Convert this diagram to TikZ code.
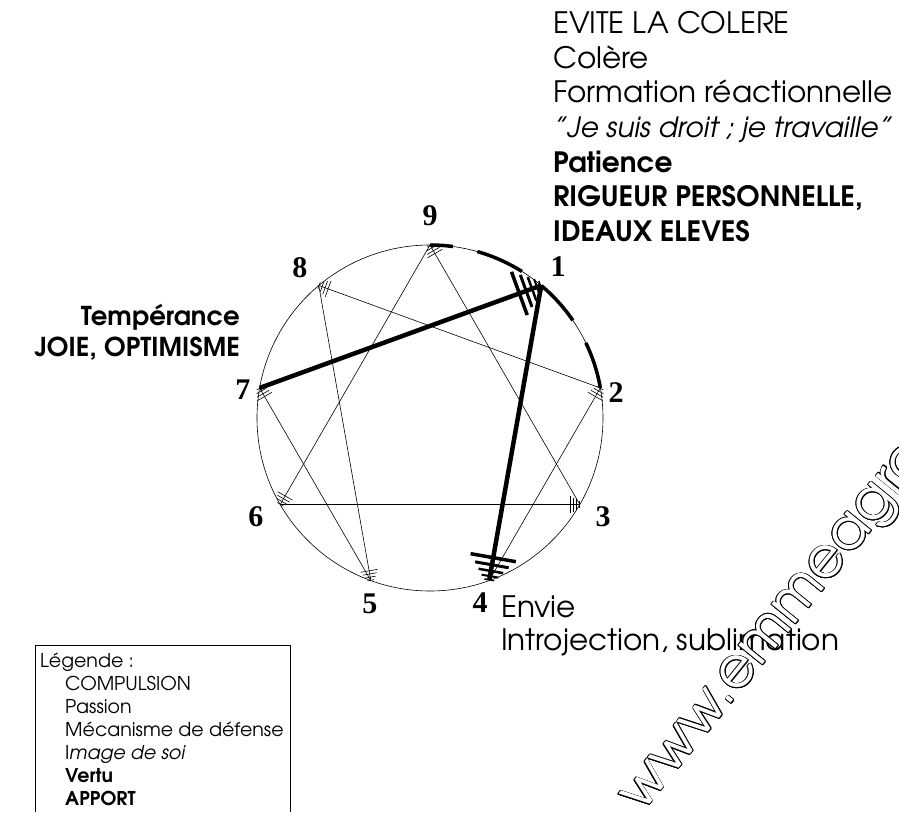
\documentclass[tikz,border=0pt]{standalone}
\usepackage{fontspec}
\setmainfont{TeX Gyre Adventor}
\newfontfamily\numfont{Liberation Serif}
\usepackage{contour}
\contourlength{0.7pt}
\usetikzlibrary{arrows.meta}

\begin{document}
\begin{tikzpicture}[x=1pt, y=1pt,
		thin_edge/.style={draw=black, line width=0.6pt},
		thin_tip/.style={-{Bar[width=17pt,sep=2.6pt] Bar[width=14pt,sep=2.6pt] Bar[width=11pt,sep=2.6pt] Bar[width=7pt]}},
		thick_edge/.style={draw=black, line width=4.5pt},
		thick_tip/.style={-{Bar[width=46pt,line width=3.5pt,sep=4pt] Bar[width=34pt,line width=3pt,sep=3.5pt] Bar[width=25pt,line width=2.5pt,sep=3pt] Bar[width=17pt,line width=2pt,sep=2pt] Bar[width=10pt,line width=1.5pt]}},
		arc_style/.style={draw=black, line width=3.5pt, dash pattern=on 23pt off 25pt on 49pt off 24pt on 47pt off 26pt on 48pt},
		num_style/.style={font=\numfont\bfseries\fontsize{30}{30}\selectfont},
		txt_style/.style={font=\fontsize{29.5}{34}\selectfont, anchor=base west, inner sep=0pt},
		bold_style/.style={font=\bfseries\fontsize{26}{30}\selectfont, anchor=base east, inner sep=0pt},
		leg_style/.style={font=\fontsize{19}{22}\selectfont, anchor=base west, inner sep=0pt}]

		\useasboundingbox (-430,-394) rectangle (469,418);

		% circle and its nine points
		\draw[thin_edge] (0,0) circle[radius=173];
		\foreach \i [evaluate=\i as \a using 90-40*\i] in {1,...,9}
			\coordinate (p\i) at (\a:173);

		% point numbers
		\foreach \i/\x/\y in {1/128/151, 2/186/25, 3/173/-99, 4/50/-185, 5/-60/-186,
				6/-174/-99, 7/-187/28, 8/-130/150, 9/0/202}
			\node[num_style] (n\i) at (\x,\y) {\i};

		% thin lines
		\draw[thin_edge, thin_tip]  (p3) -- (p9);
		\draw[thin_edge, thin_tip]  (p9) -- (p6);
		\draw[thin_edge, thin_tip]  (p6) -- (p3);
		\draw[thin_edge, thin_tip]  (p2) -- (p8);
		\draw[thin_edge, thin_tip]  (p8) -- (p5);
		\draw[thin_edge, thin_tip]  (p5) -- (p7);
		\draw[thin_edge, thin_tip]  (p4) -- (p2);

		% thick lines
		\draw[thick_edge, thick_tip]  (p7) -- (p1);
		\draw[thick_edge, thick_tip]  (p1) -- (p4);

		% arc from 9 to 2
		\draw[arc_style] (p9) arc[start angle=90, end angle=10, radius=173];

		% texts of point 1
		\foreach \txt [count=\i from 0] in {{EVITE LA COLERE}, {Colère}, {Formation réactionnelle},
				{\fontsize{28}{34}\selectfont\textit{"Je suis droit ; je travaille"}},
				{\fontsize{28}{34}\selectfont\textbf{Patience}},
				{\fontsize{28}{34}\selectfont\textbf{RIGUEUR PERSONNELLE,}},
				{\fontsize{28}{34}\selectfont\textbf{IDEAUX ELEVES}}}
			\node[txt_style] (r\i) at (123, {384-34.5*\i}) {\txt};

		% texts of point 7
		\node[bold_style] (t1) at (-190, 93) {Tempérance};
		\node[bold_style] (t2) at (-190, 62) {JOIE, OPTIMISME};

		% texts of point 4
		\node[txt_style] (b1) at (71, -199) {Envie};
		\node[txt_style] (b2) at (71, -232) {Introjection, sublimation};

		% legend
		\draw[line width=0.6pt] (-395,-394) -- (-395,-227) -- (-140,-227) -- (-140,-394);
		\node[leg_style] (l0) at (-390, -249) {Légende :};
		\foreach \txt [count=\i] in {{COMPULSION}, {Passion}, {Mécanisme de défense},
				{I\textit{mage de soi}}, {\textbf{Vertu}}, {\textbf{APPORT}}}
			\node[leg_style] (l\i) at (-365, {-249-23*\i}) {\txt};

		% watermark
		\node[rotate=51, anchor=base west, inner sep=0pt, font=\fontsize{56}{56}\selectfont] (wm) at (212, -396)
			{\contour{black}{\textcolor{white}{www.emmeagra}}};

\end{tikzpicture}
\end{document}
